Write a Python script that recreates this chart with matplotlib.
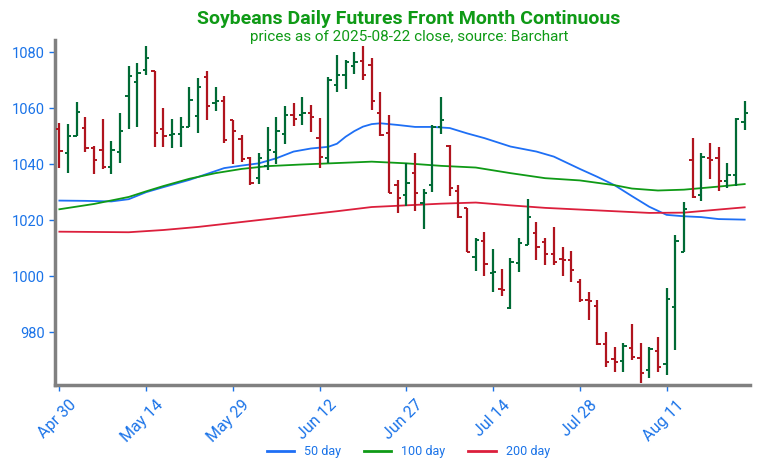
import matplotlib
matplotlib.use("Agg")
import matplotlib.pyplot as plt
import matplotlib.transforms as mtransforms

plt.rcParams['font.family'] = ['Roboto', 'DejaVu Sans']

# daily bars, trading days 2025-04-30 .. 2025-08-22
opens = [1052.5, 1043.9, 1050.2, 1052.8, 1045.7, 1045.1, 1038.9, 1044.5, 1064.2, 1069.5,
         1073.7, 1073.3, 1052.5, 1050.4, 1050.7, 1053.2, 1057.3, 1071.1, 1061.8, 1062.4,
         1055.8, 1048.9, 1042.1, 1035.0, 1039.2, 1044.5, 1050.8, 1057.6, 1057.6, 1058.2,
         1049.3, 1042.1, 1068.3, 1071.9, 1074.9, 1077.0, 1075.5, 1058.4, 1051.1, 1032.4,
         1029.0, 1037.0, 1026.0, 1032.4, 1053.2, 1046.6, 1030.5, 1024.3, 1006.8, 1012.6,
         1001.1, 995.4, 988.5, 1004.6, 1011.2, 1015.4, 1012.1, 1008.0, 1006.2, 1005.8,
         998.1, 991.5, 989.4, 975.7, 970.4, 969.9, 974.3, 970.7, 966.5, 973.4,
         968.7, 989.1, 1008.6, 1041.5, 1029.0, 1042.1, 1042.1, 1034.0, 1036.2, 1055.0]
highs = [1054.6, 1054.4, 1062.1, 1057.0, 1046.6, 1056.1, 1048.1, 1058.2, 1074.9, 1076.3,
         1082.3, 1073.3, 1060.0, 1056.1, 1056.8, 1067.4, 1070.7, 1073.1, 1067.7, 1064.2,
         1055.8, 1050.5, 1042.7, 1043.9, 1053.2, 1056.8, 1060.8, 1061.8, 1063.9, 1061.0,
         1056.4, 1071.1, 1079.0, 1077.3, 1079.9, 1082.3, 1077.8, 1065.6, 1057.6, 1034.4,
         1040.4, 1044.0, 1031.1, 1054.0, 1064.1, 1046.9, 1032.6, 1024.5, 1013.8, 1015.9,
         1009.6, 1002.5, 1006.6, 1013.8, 1027.5, 1019.5, 1013.6, 1017.7, 1010.6, 1009.1,
         998.9, 994.5, 991.5, 980.2, 974.6, 976.3, 982.9, 976.1, 974.6, 978.2,
         995.7, 1014.8, 1026.6, 1049.3, 1043.9, 1047.7, 1046.1, 1040.4, 1056.4, 1062.7]
lows = [1038.8, 1037.0, 1050.2, 1044.3, 1036.4, 1038.2, 1036.5, 1040.4, 1052.5, 1053.2,
        1071.9, 1046.1, 1046.1, 1045.7, 1046.3, 1053.2, 1051.3, 1055.8, 1059.1, 1047.5,
        1040.1, 1040.6, 1032.6, 1033.0, 1038.0, 1040.1, 1047.3, 1053.7, 1054.0, 1051.5,
        1038.5, 1040.4, 1065.6, 1066.8, 1072.2, 1070.1, 1059.2, 1049.9, 1029.6, 1022.7,
        1025.1, 1023.4, 1017.0, 1029.9, 1050.8, 1028.7, 1020.7, 1008.8, 1002.0, 999.9,
        994.5, 993.0, 988.2, 1001.6, 1011.2, 1005.8, 1004.0, 1004.0, 1000.2, 998.1,
        990.7, 984.4, 975.5, 967.5, 965.9, 965.9, 970.1, 961.8, 963.8, 965.9,
        964.8, 973.7, 1008.6, 1027.9, 1027.0, 1034.6, 1030.6, 1031.4, 1032.2, 1052.3]
closes = [1044.7, 1050.2, 1058.5, 1045.7, 1041.5, 1039.1, 1045.1, 1052.0, 1071.5, 1072.7,
          1077.8, 1051.3, 1050.1, 1050.7, 1053.2, 1063.0, 1067.5, 1060.6, 1062.7, 1048.7,
          1052.0, 1041.8, 1033.4, 1042.1, 1045.1, 1052.0, 1057.6, 1056.1, 1058.2, 1057.0,
          1042.5, 1070.1, 1071.9, 1076.6, 1076.6, 1071.9, 1062.4, 1050.5, 1029.6, 1027.9,
          1033.2, 1029.6, 1029.6, 1053.2, 1055.8, 1031.5, 1021.1, 1008.8, 1013.0, 1004.4,
          1001.4, 994.9, 1005.2, 1011.8, 1021.1, 1010.4, 1008.0, 1005.2, 1005.8, 1002.2,
          991.5, 991.3, 975.7, 969.5, 969.5, 975.1, 971.3, 965.6, 974.0, 967.7,
          991.8, 1012.7, 1023.9, 1028.4, 1042.7, 1041.5, 1034.1, 1036.2, 1056.1, 1058.4]

# moving averages, read at the listed bar positions
ma50_idx = [0, 3, 6, 8, 10, 12, 15, 17, 19, 21, 23, 25, 27, 29, 31, 32, 33, 34, 35, 36, 37,
            39, 41, 43, 45, 47, 49, 52, 55, 57, 60, 62, 64, 66, 68, 70, 72, 74, 76, 79]
ma50 = [1027.0, 1026.9, 1026.7, 1027.5, 1030.0, 1031.8, 1034.4, 1036.5, 1038.6, 1039.5,
        1040.3, 1042.1, 1044.5, 1045.6, 1046.2, 1047.3, 1049.8, 1051.8, 1053.4, 1054.3,
        1054.6, 1054.0, 1053.3, 1053.3, 1052.9, 1051.0, 1049.3, 1046.3, 1044.5, 1042.7,
        1038.3, 1035.5, 1032.5, 1028.6, 1024.8, 1021.9, 1021.4, 1021.1, 1020.4, 1020.2]
ma100_idx = [0, 4, 8, 10, 12, 15, 18, 21, 24, 28, 32, 36, 40, 44, 48, 52, 56, 60, 64, 66,
             69, 72, 76, 79]
ma100 = [1023.9, 1025.8, 1028.3, 1030.3, 1032.2, 1034.8, 1036.8, 1038.3, 1039.3, 1039.9,
         1040.4, 1040.9, 1040.3, 1039.4, 1038.8, 1036.8, 1035.0, 1034.2, 1032.5, 1031.3,
         1030.6, 1030.9, 1032.0, 1032.9]
ma200_idx = [0, 4, 8, 12, 16, 20, 24, 28, 32, 36, 40, 44, 48, 52, 56, 60, 64, 68, 72, 76, 79]
ma200 = [1015.9, 1015.8, 1015.7, 1016.5, 1017.6, 1019.0, 1020.4, 1021.8, 1023.2, 1024.7,
         1025.3, 1025.9, 1026.3, 1025.3, 1024.4, 1023.8, 1023.2, 1022.6, 1022.7, 1023.8, 1024.6]

tick_pos = [0, 10, 20, 30, 40, 50, 60, 70]
tick_labels = ['Apr 30', 'May 14', 'May 29', 'Jun 12', 'Jun 27', 'Jul 14', 'Jul 28', 'Aug 11']

UP = '#006a35'
DOWN = '#b0141e'
BLUE = '#1a73e8'

fig = plt.figure(figsize=(7.59, 4.74), dpi=100)
ax = fig.add_axes([0.0725, 0.188, 0.9155, 0.728])

x = list(range(len(opens)))
colors = [UP if c >= o else DOWN for o, c in zip(opens, closes)]
w = 0.38
ax.vlines(x, lows, highs, colors=colors, linewidth=1.6, zorder=3)
ax.hlines(opens, [i - w for i in x], x, colors=colors, linewidth=1.4, zorder=3)
ax.hlines(closes, x, [i + w for i in x], colors=colors, linewidth=1.4, zorder=3)

ax.plot(ma50_idx, ma50, color='#1e6ff5', lw=1.3, label='50 day', zorder=2)
ax.plot(ma100_idx, ma100, color='#0f9a16', lw=1.3, label='100 day', zorder=2)
ax.plot(ma200_idx, ma200, color='#dc1f3c', lw=1.3, label='200 day', zorder=2)

ax.set_xlim(-0.5, 79.6)
ax.set_ylim(961.2, 1084.4)
ax.set_yticks([980, 1000, 1020, 1040, 1060, 1080])
ax.set_xticks(tick_pos)
ax.set_xticklabels(tick_labels, rotation=45, ha='right', rotation_mode='anchor')
ax.tick_params(colors=BLUE, labelsize=10.5, length=4, width=1)
ax.tick_params(axis='x', pad=5, labelsize=11.5)
shift = mtransforms.ScaledTranslation(9 / 100, 0, fig.dpi_scale_trans)
for lab in ax.get_xticklabels():
    lab.set_transform(lab.get_transform() + shift)

for s in ['top', 'right']:
    ax.spines[s].set_visible(False)
for s in ['left', 'bottom']:
    ax.spines[s].set_color('#808080')
    ax.spines[s].set_linewidth(2.5)

fig.text(0.539, 0.95, 'Soybeans Daily Futures Front Month Continuous', ha='center',
         fontsize=14, fontweight='bold', color='#0f9a16')
fig.text(0.539, 0.913, 'prices as of 2025-08-22 close, source: Barchart', ha='center',
         fontsize=11, color='#0f9a16')

leg = fig.legend(loc='lower center', bbox_to_anchor=(0.538, 0.01), ncol=3, frameon=False,
                 fontsize=9, handlelength=2.2, columnspacing=1.8)
for t in leg.get_texts():
    t.set_color(BLUE)
for h in leg.get_lines():
    h.set_linewidth(2)

fig.savefig('out.png', dpi=100)
